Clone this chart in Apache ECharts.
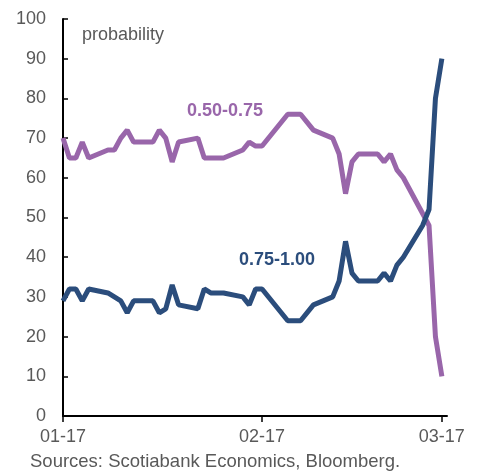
<!DOCTYPE html>
<html>
<head>
<meta charset="utf-8">
<script src="https://cdn.jsdelivr.net/npm/echarts@6/dist/echarts.min.js"></script>
<style>
html,body{margin:0;padding:0;background:#fff;}
#c{width:482px;height:471px;}
</style>
</head>
<body>
<div id="c"></div>
<script>
const dates = ['2017-01-17','2017-01-18','2017-01-19','2017-01-20','2017-01-21','2017-01-24','2017-01-25','2017-01-26','2017-01-27','2017-01-28',
  '2017-01-31','2017-02-01','2017-02-02','2017-02-03','2017-02-04','2017-02-07','2017-02-08','2017-02-09','2017-02-11','2017-02-14',
  '2017-02-15','2017-02-16','2017-02-17','2017-02-21','2017-02-23','2017-02-25','2017-02-28','2017-03-01','2017-03-02','2017-03-03',
  '2017-03-04','2017-03-07','2017-03-08','2017-03-09','2017-03-10','2017-03-11','2017-03-14','2017-03-15','2017-03-16','2017-03-17'];
const range050_075 = [70,65,65,69,65,67,67,70,72,69,
  69,72,70,64,69,70,65,65,65,67,
  69,68,68,76,76,72,70,66,56,64,
  66,66,64,66,62,60,51,48,20,10];
const range075_100 = [29,32,32,29,32,31,30,29,26,29,
  29,26,27,33,28,27,32,31,31,30,
  28,32,32,24,24,28,30,34,44,36,
  34,34,36,34,38,40,48,52,80,90];
const tickDates = ['2017-01-17','2017-02-17','2017-03-17'];
const tickLabels = ['01-17','02-17','03-17'];
const yTicks = [0,100,10];

const startMs = Date.parse(dates[0]);
const dayOf = s => (Date.parse(s) - startMs) / 86400000;
const tickDays = tickDates.map(dayOf);

const purple = '#9966aa';
const blue = '#2b4d7c';
const grey = '#595959';
const font = 'Arial, "Liberation Sans", sans-serif';

const chart = echarts.init(document.getElementById('c'), null, {renderer:'canvas'});
chart.setOption({
  animation:false,
  backgroundColor:'#fff',
  grid:{left:63,right:35,top:19,bottom:55,containLabel:false},
  xAxis:{
    type:'value', min:0, max:59.8,
    axisLine:{show:true,lineStyle:{color:'#000',width:2}},
    axisTick:{show:true,inside:false,length:6,lineStyle:{color:'#000',width:1.5},customValues:tickDays},
    axisLabel:{show:true,color:grey,fontSize:18,fontFamily:font,margin:12,customValues:tickDays,
      formatter:v=>{const i=tickDays.findIndex(d=>Math.abs(d-v)<0.01);return i>=0?tickLabels[i]:'';}},
    splitLine:{show:false}
  },
  yAxis:{
    type:'value', min:yTicks[0], max:yTicks[1], interval:yTicks[2],
    axisLine:{show:true,lineStyle:{color:'#000',width:2}},
    axisTick:{show:true,inside:true,length:5,lineStyle:{color:'#000',width:1.5}},
    axisLabel:{color:grey,fontSize:18,fontFamily:font,margin:17},
    splitLine:{show:false}
  },
  series:[
    {type:'line',name:'0.50-0.75',data:dates.map((d,i)=>[dayOf(d),range050_075[i]]),
      showSymbol:false,symbol:'none',lineStyle:{color:purple,width:5},itemStyle:{color:purple}},
    {type:'line',name:'0.75-1.00',data:dates.map((d,i)=>[dayOf(d),range075_100[i]]),
      showSymbol:false,symbol:'none',lineStyle:{color:blue,width:5},itemStyle:{color:blue}}
  ],
  graphic:[
    {type:'text',left:82,top:26,style:{text:'probability',fill:grey,font:'18px '+font}},
    {type:'text',x:225,y:111,style:{text:'0.50-0.75',fill:purple,font:'bold 18px '+font,align:'center',verticalAlign:'middle'}},
    {type:'text',x:277,y:260,style:{text:'0.75-1.00',fill:blue,font:'bold 18px '+font,align:'center',verticalAlign:'middle'}},
    {type:'text',x:30,y:462,style:{text:'Sources: Scotiabank Economics, Bloomberg.',fill:grey,font:'18.5px '+font,align:'left',verticalAlign:'middle'}}
  ]
});
</script>
</body>
</html>
